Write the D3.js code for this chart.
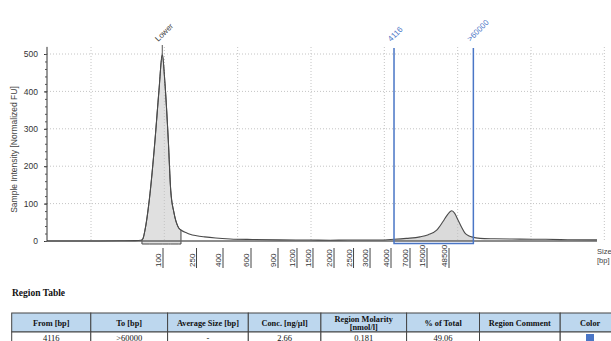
<!DOCTYPE html>
<html><head><meta charset="utf-8">
<script src="https://cdn.jsdelivr.net/npm/d3@7"></script>
<style>html,body{margin:0;padding:0;background:#fff;overflow:hidden}</style>
</head><body>
<svg id="c" width="611" height="341"></svg>
<script>
// ---- data ----
const traceTime = [14,20,24,26,26.8,27.05,27.36,27.95,28.73,29.27,29.72,30.09,30.54,30.87,31.32,31.9,32.37,33,33.5,34.4,35.5,37,39,42,45.8,50,52.6,55,59.4,61.32,63,64.86,66,67.14,68,68.6,69.19,69.6,70.05,70.5,71,71.5,71.92,73.05,75,78.5,82,85,89];
const traceFU   = [0,0,0.5,1,2,5,29,110,270,403,498,420,270,136,75,37,28,22,18,14,11,8,5.5,4,3,2.5,2,2.5,2.5,4.5,7,11,17,29,52,70,81,74,56,38,21,14,11,7,6,5,4.5,3.5,3];
const ladderSizes = ["100","250","400","600","900","1200","1500","2000","2500","3000","4000","7000","15000","48500"];
const ladderTimes = [29.82,34.39,38.0,41.82,45.5,48.09,50.27,53.14,55.8,58.05,60.91,63.5,65.82,68.82];
const yTicks = [0,100,200,300,400,500];
const gridTimes = [20,30,40,50,60,70,80,90];
const lowerPeakTime = 29.72, lowerFrom = 26.95, lowerTo = 32.27, lowerLabel = "Lower";
const regionFrom = 61.32, regionTo = 72.14, regionLabels = ["4116", ">60000"];
const tableTitle = "Region Table";
const tableHeaders = [["From [bp]"],["To [bp]"],["Average Size [bp]"],["Conc. [ng/µl]"],["Region Molarity","[nmol/l]"],["% of Total"],["Region Comment"],["Color"]];
const tableRow = ["4116",">60000","-","2.66","0.181","49.06","",""];
const tableCols = [11.7,90.8,167.6,248.3,320.9,406.6,479.5,560.2,620];

// ---- chart ----
const svg = d3.select("#c");
const x = d3.scaleLinear().domain([14, 89]).range([47, 597]);
const y = d3.scaleLinear().domain([0, 500]).range([241, 54]);
const sans = "Liberation Sans, Arial, sans-serif";
const serif = "Liberation Serif, Times New Roman, serif";
const blue = "#4a76c6";
const trace = traceTime.map((t,i)=>({t, v: traceFU[i]}));

// horizontal grid
svg.append("g").selectAll("line").data(yTicks.filter(d=>d>0)).join("line")
  .attr("x1", x(14)).attr("x2", x(90)).attr("y1", d=>y(d)).attr("y2", d=>y(d))
  .attr("stroke", "#c4c4c4").attr("stroke-width", 1).attr("stroke-dasharray", "1,2");

// fills
const areaGen = (base) => d3.area().curve(d3.curveMonotoneX)
  .x(d=>x(d.t)).y0(base).y1(d=>y(d.v));
function segment(lo, hi){
  const interp = t => {
    for (let i=1;i<trace.length;i++){ if (trace[i].t>=t){const a=trace[i-1],b=trace[i];return a.v+(b.v-a.v)*(t-a.t)/(b.t-a.t);} }
    return trace[trace.length-1].v; };
  return [{t:lo, v:interp(lo)}, ...trace.filter(d=>d.t>lo && d.t<hi), {t:hi, v:interp(hi)}];
}
svg.append("path").datum(segment(regionFrom, regionTo))
  .attr("d", areaGen(y(0)))
  .attr("fill", "#dadada");
svg.append("path").datum(segment(lowerFrom, lowerTo))
  .attr("d", areaGen(y(0)+3))
  .attr("fill", "#e0e0e0").attr("stroke", "#444").attr("stroke-width", 1);

// vertical grid
svg.append("g").selectAll("line").data(gridTimes).join("line")
  .attr("x1", d=>x(d)).attr("x2", d=>x(d)).attr("y1", 47).attr("y2", y(0))
  .attr("stroke", "#c4c4c4").attr("stroke-width", 1).attr("stroke-dasharray", "1,2");

// baseline axis
svg.append("line").attr("x1", x(14)).attr("x2", x(89)).attr("y1", y(0)).attr("y2", y(0))
  .attr("stroke", "#666").attr("stroke-width", 1.6);

// trace
svg.append("path").datum(trace)
  .attr("d", d3.line().curve(d3.curveMonotoneX).x(d=>x(d.t)).y(d=>y(d.v)))
  .attr("fill", "none").attr("stroke", "#4a4a4a").attr("stroke-width", 1.1);

// y axis
const yAxis = svg.append("g").attr("transform", `translate(${x(14)},0)`)
  .call(d3.axisLeft(y).tickValues(yTicks).tickSize(3).tickPadding(6));
yAxis.select(".domain").attr("d", `M0,${y(519)}V${y(0)}`).attr("stroke", "#333");
yAxis.selectAll("text").attr("font-family", sans).attr("font-size", 8.5).attr("fill", "#333");
yAxis.selectAll(".tick line").attr("stroke", "#333");
svg.append("g").attr("transform", `translate(${x(14)},0)`)
  .call(d3.axisLeft(y).tickValues(d3.range(0, 520, 20)).tickSize(2).tickFormat(""))
  .call(g=>g.select(".domain").remove())
  .selectAll("line").attr("stroke", "#555");
svg.append("text").attr("transform", `translate(17,${y(250)+2}) rotate(-90)`)
  .attr("text-anchor", "middle").attr("font-family", sans).attr("font-size", 8.5)
  .attr("fill", "#444").text("Sample Intensity [Normalized FU]");

// ladder ticks
const lt = svg.append("g");
lt.selectAll("line").data(ladderTimes).join("line")
  .attr("x1", d=>x(d)).attr("x2", d=>x(d)).attr("y1", 248).attr("y2", 268)
  .attr("stroke", "#444").attr("stroke-width", 1);
lt.selectAll("text").data(ladderSizes).join("text")
  .attr("transform", (d,i)=>`translate(${x(ladderTimes[i])-2},267) rotate(-90)`)
  .attr("text-anchor", "start").attr("font-family", sans).attr("font-size", 8)
  .attr("fill", "#333").text(d=>d);
svg.append("text").attr("x", 597).attr("y", 254).attr("font-family", sans).attr("font-size", 7.5)
  .attr("fill", "#444").text("Size");
svg.append("text").attr("x", 597).attr("y", 263).attr("font-family", sans).attr("font-size", 7.5)
  .attr("fill", "#444").text("[bp]");

// Lower marker
svg.append("line").attr("x1", x(lowerPeakTime)).attr("x2", x(lowerPeakTime))
  .attr("y1", 45).attr("y2", y(498)).attr("stroke", "#555").attr("stroke-width", 1);
svg.append("text").attr("transform", `translate(${x(lowerPeakTime)-4},42) rotate(-45)`)
  .attr("font-family", sans).attr("font-size", 8).attr("fill", "#444").text(lowerLabel);

// region box
svg.append("path")
  .attr("d", `M${x(regionFrom)},48V${y(0)+2.5}H${x(regionTo)}V48`)
  .attr("fill", "none").attr("stroke", blue).attr("stroke-width", 1.5);
svg.selectAll(".rl").data([regionFrom, regionTo]).join("text")
  .attr("transform", (d)=>`translate(${x(d)-3},42) rotate(-45)`)
  .attr("font-family", sans).attr("font-size", 8).attr("fill", blue)
  .text((d,i)=>regionLabels[i]);

// ---- table ----
svg.append("text").attr("x", 12).attr("y", 296).attr("font-family", serif)
  .attr("font-weight", "bold").attr("font-size", 9.5).attr("fill", "#111").text(tableTitle);
const tTop = 313, hH = 19, rH = 14;
const cols = tableHeaders.map((h,i)=>({h, x0: tableCols[i], x1: tableCols[i+1], v: tableRow[i]}));
const tg = svg.append("g");
tg.selectAll("rect.h").data(cols).join("rect")
  .attr("x", d=>d.x0).attr("y", tTop).attr("width", d=>d.x1-d.x0).attr("height", hH)
  .attr("fill", "#bdd7ee").attr("stroke", "#444").attr("stroke-width", 1);
tg.selectAll("rect.r").data(cols).join("rect")
  .attr("x", d=>d.x0).attr("y", tTop+hH).attr("width", d=>d.x1-d.x0).attr("height", rH)
  .attr("fill", "#fff").attr("stroke", "#444").attr("stroke-width", 1);
cols.forEach(c=>{
  const cx = (c.x0 + c.x1)/2;
  const t = tg.append("text").attr("text-anchor", "middle").attr("font-family", serif)
    .attr("font-weight", "bold").attr("font-size", 8.3).attr("fill", "#111");
  if (c.h.length === 1) t.attr("x", cx).attr("y", tTop+12.5).text(c.h[0]);
  else c.h.forEach((s,j)=>t.append("tspan").attr("x", cx).attr("y", tTop+8.5+j*8).text(s));
  if (c.v) tg.append("text").attr("x", cx).attr("y", tTop+hH+8.5).attr("text-anchor", "middle")
    .attr("font-family", serif).attr("font-size", 8.5).attr("fill", "#111").text(c.v);
});
tg.append("rect").attr("x", 586).attr("y", tTop+hH+2).attr("width", 8).attr("height", 9).attr("fill", blue);
</script>
</body></html>
